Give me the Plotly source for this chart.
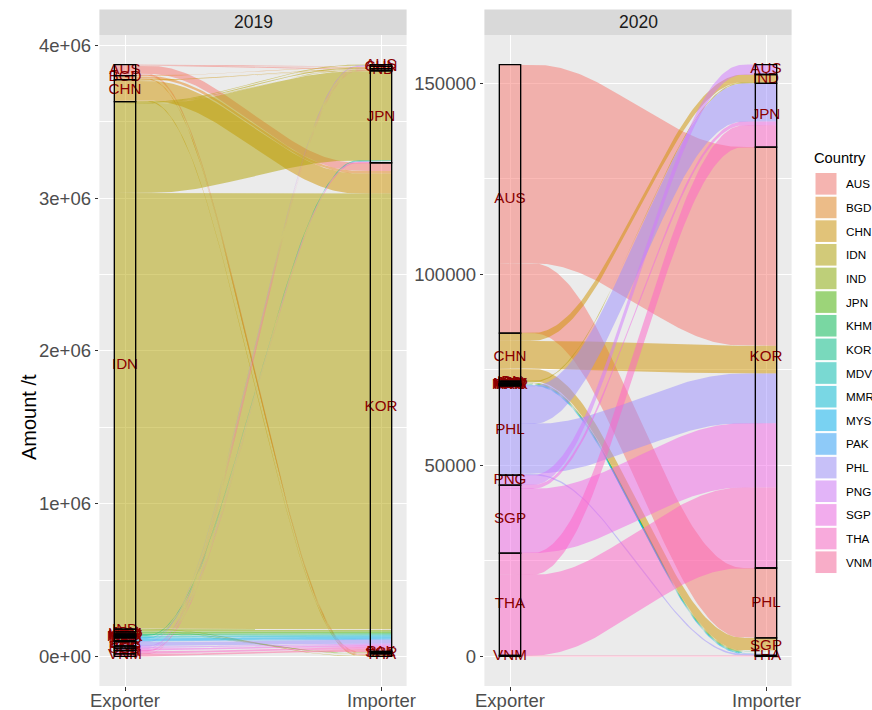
import math
import plotly.graph_objects as go

W, H = 872, 710
FONT = "Liberation Sans, Arial, Helvetica, sans-serif"

# ---------------- data ----------------
countries = ["AUS", "BGD", "CHN", "IDN", "IND", "JPN", "KHM", "KOR", "MDV",
             "MMR", "MYS", "PAK", "PHL", "PNG", "SGP", "THA", "VNM"]
axis_labels = ["Exporter", "Importer"]
facet_years = ["2019", "2020"]

exp_2019 = ["AUS", "AUS", "AUS", "AUS", "AUS",
            "BGD", "BGD", "BGD", "BGD",
            "CHN", "CHN", "CHN", "CHN",
            "IDN", "IDN", "IDN", "IDN", "IDN", "IDN",
            "IND", "IND", "JPN", "JPN", "KHM", "KOR", "MDV", "MMR", "MYS", "MYS", "PAK",
            "PHL", "PHL", "PNG", "PNG", "SGP", "SGP", "THA", "THA", "THA", "VNM", "VNM"]
imp_2019 = ["CHN", "IND", "KOR", "PAK", "THA",
            "CHN", "KOR", "PAK", "SGP",
            "IND", "JPN", "KOR", "THA",
            "AUS", "CHN", "IND", "JPN", "KOR", "THA",
            "KOR", "SGP", "KOR", "PAK", "KOR", "JPN", "KOR", "KOR", "JPN", "KOR", "KOR",
            "AUS", "KOR", "JPN", "KOR", "AUS", "KOR", "CHN", "JPN", "KOR", "IND", "KOR"]
amt_2019 = [4000, 3000, 53000, 4000, 8000,
            3000, 17000, 3000, 3000,
            4000, 3000, 131000, 6000,
            5000, 6000, 4000, 583000, 2853000, 3000,
            15000, 3000, 12000, 2000, 8000, 5000, 5000, 8000, 3000, 15000, 6000,
            4000, 25000, 4000, 10000, 3000, 12000, 2000, 5000, 15000, 2000, 15000]

exp_2020 = ["AUS", "AUS",
            "CHN", "CHN", "CHN",
            "IDN", "IDN", "IND", "JPN", "KHM", "KOR", "MDV", "MMR", "MYS", "PAK",
            "PHL", "PHL", "PHL",
            "PNG",
            "SGP", "SGP",
            "THA", "THA",
            "VNM"]
imp_2020 = ["KOR", "PHL",
            "IND", "KOR", "SGP",
            "IND", "SGP", "SGP", "SGP", "SGP", "SGP", "SGP", "SGP", "SGP", "SGP",
            "JPN", "KOR", "SGP",
            "AUS",
            "JPN", "KOR",
            "JPN", "KOR",
            "THA"]
amt_2020 = [52000, 18300,
            2000, 7300, 3300,
            300, 150, 100, 120, 80, 100, 60, 80, 150, 60,
            10000, 13000, 400,
            2600,
            1000, 16800,
            5700, 21100,
            250]

y_ticks_2019 = [0, 1e6, 2e6, 3e6, 4e6]
y_ticklabels_2019 = ["0e+00", "1e+06", "2e+06", "3e+06", "4e+06"]
y_ticks_2020 = [0, 50000, 100000, 150000]
y_ticklabels_2020 = ["0", "50000", "100000", "150000"]


# ---------------- ggplot default hue palette ----------------
def hcl_hex(h, c=100.0, l=65.0):
    xn, yn, zn = 95.047, 100.0, 108.883
    un = 4 * xn / (xn + 15 * yn + 3 * zn)
    vn = 9 * yn / (xn + 15 * yn + 3 * zn)
    hr = math.radians(h)
    u, v = c * math.cos(hr), c * math.sin(hr)
    y = yn * ((l + 16) / 116) ** 3 if l > 8 else yn * l / 903.3
    up = u / (13 * l) + un
    vp = v / (13 * l) + vn
    x = 9.0 * y * up / (4 * vp)
    z = -x / 3 - 5 * y + 3 * y / vp
    x, y, z = x / 100, y / 100, z / 100
    rl = 3.240479 * x - 1.537150 * y - 0.498535 * z
    gl = -0.969256 * x + 1.875992 * y + 0.041556 * z
    bl = 0.055648 * x - 0.204043 * y + 1.057311 * z

    def gam(t):
        t = 12.92 * t if t <= 0.0031308 else 1.055 * t ** (1 / 2.4) - 0.055
        return int(round(255 * min(1.0, max(0.0, t))))
    return "#%02X%02X%02X" % (gam(rl), gam(gl), gam(bl))


n_col = len(countries)
palette = [hcl_hex(15 + 360.0 * i / n_col) for i in range(n_col)]

# ---------------- helpers ----------------
STRAT_W = 1 / 12
KNOT = 0.25


def rgba(hex_color, a):
    h = hex_color.lstrip("#")
    return "rgba(%d,%d,%d,%.3f)" % (int(h[0:2], 16), int(h[2:4], 16), int(h[4:6], 16), a)


def blend(hex_color, a, bg=(242, 242, 242)):
    h = hex_color.lstrip("#")
    c = [int(h[i:i + 2], 16) for i in (0, 2, 4)]
    m = [round(a * c[i] + (1 - a) * bg[i]) for i in range(3)]
    return "rgb(%d,%d,%d)" % tuple(m)


def layout_alluvia(exp, imp, amt):
    n = len(amt)
    total = float(sum(amt))
    idx = {c: i for i, c in enumerate(countries)}
    top_e = [0.0] * n
    y = total
    for i in sorted(range(n), key=lambda i: (idx[exp[i]], idx[imp[i]])):
        top_e[i] = y
        y -= amt[i]
    top_i = [0.0] * n
    y = total
    for i in sorted(range(n), key=lambda i: (idx[imp[i]], idx[exp[i]])):
        top_i[i] = y
        y -= amt[i]
    strata = []
    for pos, names, tops in ((1, exp, top_e), (2, imp, top_i)):
        for c in countries:
            mem = [i for i in range(n) if names[i] == c]
            if not mem:
                continue
            t = max(tops[i] for i in mem)
            b = min(tops[i] - amt[i] for i in mem)
            strata.append((pos, c, t, b))
    return total, top_e, top_i, strata


def spline_profile(m=30):
    x0 = 1 + STRAT_W / 2
    x1 = 2 - STRAT_W / 2
    d = x1 - x0
    cx = [x0, x0, x0, x0 + KNOT * d, x1 - KNOT * d, x1, x1, x1]
    cf = [0, 0, 0, 0, 1, 1, 1, 1]
    xs, fs = [], []
    for s in range(len(cx) - 3):
        for j in range(m):
            t = j / m
            b = [(1 - t) ** 3 / 6, (3 * t ** 3 - 6 * t ** 2 + 4) / 6,
                 (-3 * t ** 3 + 3 * t ** 2 + 3 * t + 1) / 6, t ** 3 / 6]
            xs.append(sum(b[k] * cx[s + k] for k in range(4)))
            fs.append(sum(b[k] * cf[s + k] for k in range(4)))
    xs.append(x1)
    fs.append(1.0)
    return xs, fs


SX, SF = spline_profile()


def px_x(x):
    return x / W


def px_y(y):
    return 1 - y / H


# ---------------- figure ----------------
fig = go.Figure()
shapes = []
annotations = []

panel_x = [(99.4, 406.6), (484.4, 791.6)]
panel_top, panel_bot = 35.0, 686.0
strip_top = 9.5
TICK_FONT = 18.5

facets = [(exp_2019, imp_2019, amt_2019, y_ticks_2019, y_ticklabels_2019),
          (exp_2020, imp_2020, amt_2020, y_ticks_2020, y_ticklabels_2020)]

for k, (ex, im, am, yt, ytl) in enumerate(facets):
    xa = "x" if k == 0 else "x2"
    ya = "y" if k == 0 else "y2"
    total, top_e, top_i, strata = layout_alluvia(ex, im, am)
    for i in range(len(am)):
        a = am[i]
        t0, t1 = top_e[i], top_i[i]
        yt_ = [t0 + (t1 - t0) * f for f in SF]
        yb_ = [(t0 - a) + (t1 - t0) * f for f in SF]
        xs = [1 - STRAT_W / 2] + SX + [2 + STRAT_W / 2, 2 + STRAT_W / 2] + SX[::-1] + [1 - STRAT_W / 2]
        ys = [t0] + yt_ + [t1, t1 - a] + yb_[::-1] + [t0 - a]
        col = palette[countries.index(ex[i])]
        fig.add_trace(go.Scatter(x=xs, y=ys, mode="lines", fill="toself",
                                 fillcolor=rgba(col, 0.5), line=dict(width=0, color=rgba(col, 0)),
                                 hoverinfo="skip", showlegend=False, xaxis=xa, yaxis=ya))
    for pos, c, t, b in strata:
        shapes.append(dict(type="rect", xref=xa, yref=ya, x0=pos - STRAT_W / 2, x1=pos + STRAT_W / 2,
                           y0=b, y1=t, line=dict(color="black", width=1.35),
                           fillcolor="rgba(0,0,0,0)", layer="above"))
    fig.add_trace(go.Scatter(x=[s[0] for s in strata], y=[(s[2] + s[3]) / 2 for s in strata],
                             text=[s[1] for s in strata], mode="text",
                             textfont=dict(color="#8B0000", size=15.2, family=FONT),
                             textposition="middle center", hoverinfo="skip", showlegend=False,
                             xaxis=xa, yaxis=ya))
    dom_x = [px_x(panel_x[k][0]), px_x(panel_x[k][1])]
    dom_y = [px_y(panel_bot), px_y(panel_top)]
    minor_vals = [(yt[j] + yt[j + 1]) / 2 for j in range(len(yt) - 1)]
    xkey = "xaxis" if k == 0 else "xaxis2"
    ykey = "yaxis" if k == 0 else "yaxis2"
    fig.update_layout(**{
        xkey: dict(domain=dom_x, range=[0.9, 2.1], anchor=ya, tickmode="array", tickvals=[1, 2],
                   ticktext=axis_labels, showticklabels=False, showgrid=True, gridcolor="white",
                   gridwidth=1.07, zeroline=False, showline=False, ticks="outside", ticklen=3.7,
                   tickwidth=1.07, tickcolor="#333333", fixedrange=True, automargin=False),
        ykey: dict(domain=dom_y, range=[-0.05 * total, 1.05 * total], anchor=xa, tickmode="array",
                   tickvals=yt, ticktext=ytl, showgrid=True, gridcolor="white", gridwidth=1.07,
                   minor=dict(tickmode="array", tickvals=minor_vals, showgrid=True,
                              gridcolor="white", gridwidth=0.53, ticks=""),
                   zeroline=False, showline=False, ticks="outside", ticklen=3.7, tickwidth=1.07,
                   tickcolor="#333333", tickfont=dict(size=TICK_FONT, color="#4D4D4D", family=FONT),
                   fixedrange=True, automargin=False),
    })
    # x tick labels placed like ggplot (just under the tick marks)
    for pos, lab in zip([1, 2], axis_labels):
        annotations.append(dict(text=lab, xref=xa, yref="paper", x=pos, y=px_y(700),
                                xanchor="center", yanchor="middle", showarrow=False,
                                font=dict(size=TICK_FONT, color="#4D4D4D", family=FONT)))
    shapes.append(dict(type="rect", xref="paper", yref="paper", x0=dom_x[0], x1=dom_x[1],
                       y0=px_y(panel_top), y1=px_y(strip_top), fillcolor="#D9D9D9",
                       line=dict(width=0), layer="below"))
    annotations.append(dict(text=facet_years[k], xref="paper", yref="paper",
                            x=(dom_x[0] + dom_x[1]) / 2, y=px_y((strip_top + panel_top) / 2),
                            xanchor="center", yanchor="middle", showarrow=False,
                            font=dict(size=17.5, color="#1A1A1A", family=FONT)))

annotations.append(dict(text="Amount /t", xref="paper", yref="paper", x=px_x(29), y=px_y(417),
                        textangle=-90, xanchor="center", yanchor="middle", showarrow=False,
                        font=dict(size=20, color="black", family=FONT)))

# legend (drawn manually, ggplot style)
leg_x0, leg_x1 = 815.0, 837.0
key_top0, key_h = 172.0, 23.65
annotations.append(dict(text="Country", xref="paper", yref="paper", x=px_x(812), y=px_y(158),
                        xanchor="left", yanchor="middle", showarrow=False,
                        font=dict(size=14.7, color="black", family=FONT)))
for j, c in enumerate(countries):
    y0 = key_top0 + j * key_h
    shapes.append(dict(type="rect", xref="paper", yref="paper", x0=px_x(leg_x0), x1=px_x(leg_x1),
                       y0=px_y(y0 + key_h - 0.5), y1=px_y(y0 + 0.5),
                       fillcolor=blend(palette[j], 0.5), line=dict(color="white", width=1)))
    annotations.append(dict(text=c, xref="paper", yref="paper", x=px_x(843.5), y=px_y(y0 + key_h / 2),
                            xanchor="left", yanchor="middle", showarrow=False,
                            font=dict(size=11.7, color="black", family=FONT)))

fig.update_layout(width=W, height=H, margin=dict(l=0, r=0, t=0, b=0, autoexpand=False),
                  paper_bgcolor="white", plot_bgcolor="#EBEBEB", showlegend=False,
                  hovermode=False, shapes=shapes, annotations=annotations,
                  font=dict(family=FONT))

fig.write_html("out.html")
